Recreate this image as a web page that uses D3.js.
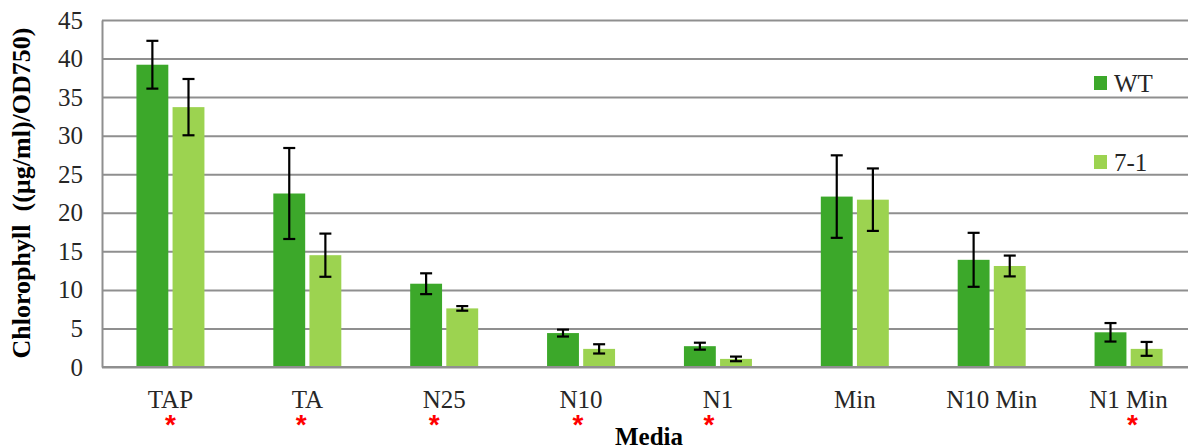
<!DOCTYPE html>
<html>
<head>
<meta charset="utf-8">
<script src="https://cdn.jsdelivr.net/npm/d3@7"></script>
<style>
  html, body { margin: 0; padding: 0; background: #fff; }
  svg { display: block; }
</style>
</head>
<body>
<svg id="chart" width="1188" height="448"></svg>
<script>
// Chlorophyll content per culture medium, wild type vs. strain 7-1
const categories = ["TAP", "TA", "N25", "N10", "N1", "Min", "N10 Min", "N1 Min"];
const seriesNames = ["WT", "7-1"];
const wtValues   = [39.2, 22.5, 10.8, 4.4, 2.7, 22.1, 13.9, 4.5];
const wtErrors   = [3.1, 5.9, 1.35, 0.45, 0.45, 5.35, 3.5, 1.2];
const mutValues  = [33.7, 14.5, 7.6, 2.35, 1.05, 21.7, 13.1, 2.35];
const mutErrors  = [3.65, 2.8, 0.3, 0.6, 0.3, 4.05, 1.35, 0.9];
const significant = ["TAP", "TA", "N25", "N10", "N1", "N1 Min"];
const yTicks = [0, 5, 10, 15, 20, 25, 30, 35, 40, 45];
const colors = { "WT": "#3ca82a", "7-1": "#9cd350" };

const SERIF = "'Liberation Serif', 'Times New Roman', serif";
const svg = d3.select("#chart");
const plotLeft = 102, plotTop = 20, plotBottom = 367, plotRight = 1197;

const x0 = d3.scaleBand().domain(categories).range([plotLeft, plotRight]);
const groupW = 68;
const x1 = d3.scaleBand().domain(seriesNames)
  .range([(x0.bandwidth() - groupW) / 2, (x0.bandwidth() + groupW) / 2])
  .paddingInner(8 / 68);
const y = d3.scaleLinear().domain([0, 45]).range([plotBottom, plotTop]);

const rows = categories.map((c, i) => ({
  category: c,
  bars: [
    { series: "WT", value: wtValues[i], err: wtErrors[i] },
    { series: "7-1", value: mutValues[i], err: mutErrors[i] }
  ]
}));

// horizontal gridlines
svg.append("g")
  .attr("transform", `translate(${plotLeft},0)`)
  .call(d3.axisLeft(y).tickValues(yTicks).tickSize(-(plotRight - plotLeft)).tickFormat(""))
  .call(g => g.select(".domain").remove())
  .call(g => g.selectAll(".tick line").attr("stroke", "#8f8f8f").attr("stroke-width", 2));

// y tick labels
svg.append("g")
  .attr("transform", `translate(${plotLeft},0)`)
  .call(d3.axisLeft(y).tickValues(yTicks).tickSize(0).tickPadding(19))
  .call(g => g.select(".domain").attr("stroke", "#8f8f8f").attr("stroke-width", 2))
  .call(g => g.selectAll(".tick text")
    .style("font-family", SERIF)
    .style("font-size", "25px").attr("fill", "#262626"));

// bars
const groups = svg.append("g").selectAll("g")
  .data(rows).join("g")
  .attr("transform", d => `translate(${x0(d.category)},0)`);

groups.selectAll("rect")
  .data(d => d.bars).join("rect")
  .attr("x", d => x1(d.series))
  .attr("width", x1.bandwidth())
  .attr("y", d => y(d.value))
  .attr("height", d => y(0) - y(d.value))
  .attr("fill", d => colors[d.series]);

// error bars
const capW = 12;
const eb = groups.selectAll("g.err")
  .data(d => d.bars).join("g").attr("class", "err")
  .attr("stroke", "#000").attr("stroke-width", 2.2);
eb.append("line")
  .attr("x1", d => x1(d.series) + x1.bandwidth() / 2)
  .attr("x2", d => x1(d.series) + x1.bandwidth() / 2)
  .attr("y1", d => y(d.value + d.err))
  .attr("y2", d => y(d.value - d.err));
[1, -1].forEach(s => {
  eb.append("line")
    .attr("x1", d => x1(d.series) + x1.bandwidth() / 2 - capW / 2)
    .attr("x2", d => x1(d.series) + x1.bandwidth() / 2 + capW / 2)
    .attr("y1", d => y(d.value + s * d.err))
    .attr("y2", d => y(d.value + s * d.err));
});

// bottom axis line
svg.append("line")
  .attr("x1", plotLeft).attr("x2", plotRight)
  .attr("y1", y(0)).attr("y2", y(0))
  .attr("stroke", "#8f8f8f").attr("stroke-width", 2);

// category labels
svg.append("g").selectAll("text")
  .data(categories).join("text")
  .attr("x", d => x0(d) + x0.bandwidth() / 2)
  .attr("y", 408)
  .attr("text-anchor", "middle")
  .style("font-family", SERIF).style("font-size", "25px")
  .attr("fill", "#262626")
  .text(d => d);

// significance markers (hand-placed text boxes, slightly off-centre)
const starNudge = { "TAP": 0, "TA": -6, "N25": -10, "N10": -3, "N1": -9, "N1 Min": 4 };
svg.append("g").selectAll("text")
  .data(significant).join("text")
  .attr("x", d => x0(d) + x0.bandwidth() / 2 + starNudge[d])
  .attr("y", 434)
  .attr("text-anchor", "middle")
  .style("font-family", "'Liberation Sans', Arial, sans-serif")
  .style("font-weight", "bold").style("font-size", "28px")
  .attr("fill", "#ff0000")
  .text("*");

// axis titles
svg.append("text")
  .attr("x", 649).attr("y", 445)
  .attr("text-anchor", "middle")
  .style("font-family", SERIF).style("font-weight", "bold").style("font-size", "25px")
  .attr("fill", "#000")
  .text("Media");

svg.append("text")
  .attr("transform", "translate(30,193) rotate(-90)")
  .attr("text-anchor", "middle")
  .style("font-family", SERIF).style("font-weight", "bold").style("font-size", "26px")
  .style("white-space", "pre")
  .attr("fill", "#000")
  .text("Chlorophyll  ((µg/ml)/OD750)");

// legend
const legend = svg.append("g").selectAll("g")
  .data(seriesNames).join("g")
  .attr("transform", (d, i) => `translate(1094,${76 + i * 79})`);
legend.append("rect").attr("width", 13).attr("height", 14).attr("fill", d => colors[d]);
legend.append("text")
  .attr("x", 20).attr("y", 16)
  .style("font-family", SERIF).style("font-size", "25px")
  .attr("fill", "#262626")
  .text(d => d);
</script>
</body>
</html>
